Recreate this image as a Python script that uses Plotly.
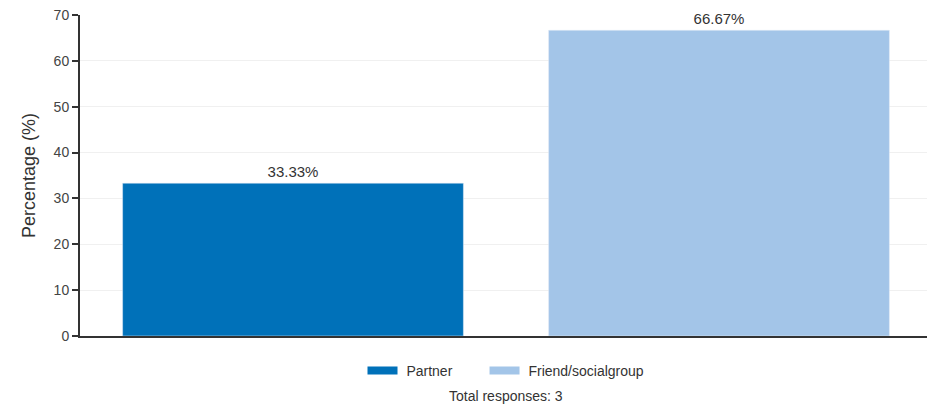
import plotly.graph_objects as go

categories = ['Partner', 'Friend/socialgroup']
percentages = [33.33, 66.67]
colors = ['#0071B9', '#A3C5E8']
total_responses = 3

fig = go.Figure()

for i, (cat, val, col) in enumerate(zip(categories, percentages, colors)):
    fig.add_bar(
        x=[cat],
        y=[val],
        name=cat,
        marker_color=col,
        text=[f'{val:.2f}%'],
        textposition='outside',
        textfont=dict(size=15, color='#333333'),
        cliponaxis=False,
        showlegend=False,
    )
    # wide rectangle legend swatch, padded to space entries apart
    pad = '\u00a0' * 7 if i < len(categories) - 1 else ''
    fig.add_scatter(
        x=[None], y=[None],
        mode='lines',
        name='\u00a0' + cat + pad,
        line=dict(color=col, width=8),
    )

fig.update_layout(
    width=927,
    height=401,
    margin=dict(l=72, r=3, t=7, b=73),
    paper_bgcolor='white',
    plot_bgcolor='white',
    font=dict(family='Liberation Sans, Arial, sans-serif', size=14, color='#444444'),
    barmode='relative',
    bargap=0.2,
    showlegend=True,
    legend=dict(
        orientation='h',
        x=0.5, xanchor='center',
        y=-0.109, yanchor='middle',
        font=dict(size=14, color='#333333'),
    ),
    annotations=[dict(
        text=f'Total responses: {total_responses}',
        x=0.5, xref='paper', xanchor='center',
        y=-0.187, yref='paper', yanchor='middle',
        showarrow=False,
        font=dict(size=14, color='#333333'),
    )],
)

fig.update_xaxes(
    showticklabels=False,
    showline=True, linecolor='#333333', linewidth=2,
    showgrid=False, ticks='',
)
fig.update_yaxes(
    range=[0, 70],
    dtick=10,
    title=dict(text='Percentage (%)', font=dict(size=18, color='#333333'), standoff=13),
    showline=True, linecolor='#333333', linewidth=2,
    ticks='outside', ticklen=6, tickwidth=2, tickcolor='#333333',
    ticklabeloverflow='allow',
    automargin=False,
    showgrid=True, gridcolor='#f0f0f0',
    zeroline=False,
)

fig.write_html('out.html')
